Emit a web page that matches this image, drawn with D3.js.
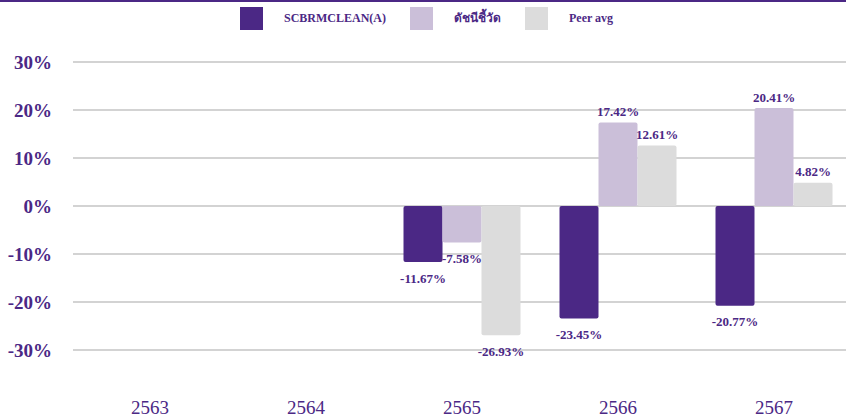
<!DOCTYPE html>
<html>
<head>
<meta charset="utf-8">
<script src="https://cdn.jsdelivr.net/npm/d3@7/dist/d3.min.js"></script>
<style>
  body { margin: 0; background: #fff; }
  svg { display: block; font-family: "Liberation Serif", "Times New Roman", serif; }
</style>
</head>
<body>
<svg id="chart" width="846" height="417"></svg>
<script>
const years = ['2563', '2564', '2565', '2566', '2567'];
const seriesNames = ['SCBRMCLEAN(A)', 'ดัชนีชี้วัด', 'Peer avg'];
const fundValues = [null, null, -11.67, -23.45, -20.77];
const benchmarkValues = [null, null, -7.58, 17.42, 20.41];
const peerValues = [null, null, -26.93, 12.61, 4.82];
const yTicks = [-30, -20, -10, 0, 10, 20, 30];

const colors = ['#4b2885', '#cbbfd9', '#dcdcdc'];
const textColor = '#4b2885';
const W = 846, H = 417;

const svg = d3.select('#chart');

// top rule
svg.append('rect').attr('x', 0).attr('y', 0).attr('width', W).attr('height', 2).attr('fill', textColor);

const x = d3.scaleBand()
    .domain(years)
    .range([72, 852])
    .paddingInner(0.25)
    .paddingOuter(0.125);

const xSub = d3.scaleBand()
    .domain(d3.range(seriesNames.length))
    .range([0, x.bandwidth()]);

const y = d3.scaleLinear()
    .domain([-30, 30])
    .range([350, 62]);

// gridlines
svg.append('g')
    .selectAll('line')
    .data(yTicks)
    .join('line')
    .attr('x1', 73).attr('x2', W)
    .attr('y1', d => y(d)).attr('y2', d => y(d))
    .attr('stroke', '#d3d3d3')
    .attr('stroke-width', 2);

// y labels
svg.append('g')
    .selectAll('text')
    .data(yTicks)
    .join('text')
    .attr('x', 52)
    .attr('y', d => y(d))
    .attr('dy', '0.35em')
    .attr('text-anchor', 'end')
    .attr('font-size', 19)
    .attr('font-weight', 'bold')
    .attr('fill', textColor)
    .text(d => d + '%');

// x labels
svg.append('g')
    .selectAll('text')
    .data(years)
    .join('text')
    .attr('x', d => x(d) + x.bandwidth() / 2)
    .attr('y', 414)
    .attr('text-anchor', 'middle')
    .attr('font-size', 19)
    .attr('fill', textColor)
    .text(d => d);

const allSeries = [fundValues, benchmarkValues, peerValues];
const bars = [];
allSeries.forEach((vals, si) => {
    vals.forEach((v, i) => {
        if (v !== null) bars.push({ year: years[i], si, v });
    });
});

const g = svg.append('g');
g.selectAll('rect')
    .data(bars)
    .join('rect')
    .attr('x', d => x(d.year) + xSub(d.si))
    .attr('width', xSub.bandwidth())
    .attr('y', d => Math.min(y(d.v), y(0)))
    .attr('height', d => Math.abs(y(d.v) - y(0)))
    .attr('rx', 2)
    .attr('fill', d => colors[d.si]);

g.selectAll('text')
    .data(bars)
    .join('text')
    .attr('x', d => x(d.year) + xSub(d.si) + xSub.bandwidth() / 2)
    .attr('y', d => d.v < 0 ? y(d.v) + 16 : y(d.v) - 11)
    .attr('dy', '0.35em')
    .attr('text-anchor', 'middle')
    .attr('font-size', 13)
    .attr('font-weight', 'bold')
    .attr('fill', textColor)
    .text(d => d.v.toFixed(2) + '%');

// legend
const legend = svg.append('g');
let lx = 240;
seriesNames.forEach((name, i) => {
    legend.append('rect')
        .attr('x', lx).attr('y', 7)
        .attr('width', 23).attr('height', 23)
        .attr('fill', colors[i]);
    const t = legend.append('text')
        .attr('x', lx + 44)
        .attr('y', 22)
        .attr('font-size', 12)
        .attr('font-weight', 'bold')
        .attr('fill', textColor)
        .text(name);
    lx = lx + 44 + t.node().getComputedTextLength() + 24;
});
</script>
</body>
</html>
